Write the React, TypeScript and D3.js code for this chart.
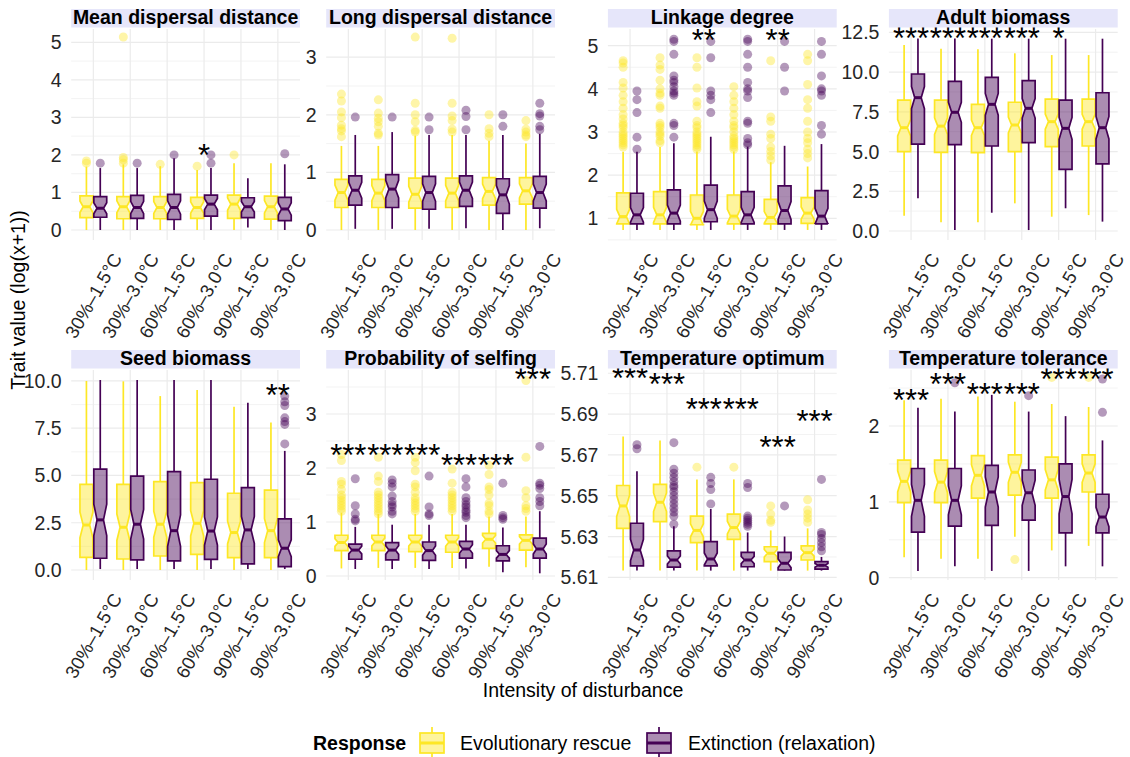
import React from "react";
import * as d3 from "d3";

// Disturbance scenarios (intensity – warming) shared by every facet
const categories = ["30%–1.5°C", "30%–3.0°C", "60%–1.5°C", "60%–3.0°C", "90%–1.5°C", "90%–3.0°C"];
const responses = ["Evolutionary rescue", "Extinction (relaxation)"];
const responseColors = ["#FDE725", "#440154"];

// Box statistics per scenario: [lower whisker, Q1, median, Q3, upper whisker]
// Outliers per scenario; significance labels per scenario: [label, y]

const meanDispersalRescue = [
  [0, 0.33, 0.62, 0.91, 1.69], [0, 0.3, 0.62, 0.89, 1.75], [0, 0.3, 0.6, 0.89, 1.7],
  [0, 0.31, 0.6, 0.87, 1.6], [0, 0.31, 0.69, 0.93, 1.78], [0, 0.29, 0.62, 0.9, 1.78],
];
const meanDispersalExtinction = [
  [0, 0.34, 0.58, 0.89, 1.65], [0, 0.31, 0.6, 0.92, 1.65], [0, 0.28, 0.6, 0.95, 1.91],
  [0, 0.37, 0.69, 0.93, 1.65], [0.07, 0.33, 0.62, 0.86, 1.38], [0, 0.25, 0.56, 0.87, 1.75],
];
const meanDispersalRescueOut = [[1.84, 1.78], [5.14, 1.93, 1.87, 1.78], [1.75], [1.7], [2.0], []];
const meanDispersalExtinctionOut = [[1.78], [1.78], [2.0], [2.0, 1.78], [], [2.03]];
const meanDispersalSig = [["", 0], ["", 0], ["", 0], ["*", 2.19], ["", 0], ["", 0]];

const longDispersalRescue = [
  [0, 0.39, 0.65, 0.88, 1.46], [0, 0.39, 0.64, 0.88, 1.46], [0, 0.38, 0.62, 0.9, 1.64],
  [0, 0.39, 0.64, 0.9, 1.65], [0, 0.43, 0.67, 0.91, 1.55], [0, 0.45, 0.68, 0.91, 1.5],
];
const longDispersalExtinction = [
  [0.02, 0.43, 0.69, 0.94, 1.65], [0.02, 0.39, 0.71, 0.96, 1.7], [0.02, 0.36, 0.65, 0.93, 1.65],
  [0.03, 0.41, 0.69, 0.94, 1.65], [0, 0.29, 0.61, 0.89, 1.65], [0.03, 0.38, 0.65, 0.93, 1.67],
];
const longDispersalRescueOut = [
  [2.36, 2.24, 2.05, 1.95, 1.82, 1.76, 1.72, 1.62],
  [2.26, 2.03, 1.94, 1.88, 1.8, 1.68, 1.65],
  [3.35, 2.2, 2.0, 1.88, 1.73, 1.7],
  [3.33, 2.2, 1.98, 1.9, 1.75, 1.7],
  [2.0, 1.76, 1.68, 1.62],
  [1.9, 1.75, 1.7, 1.65, 1.62],
];
const longDispersalExtinctionOut = [[1.96], [1.96], [1.96, 1.74], [2.08, 1.97, 1.74], [2.0, 1.8], [2.2, 2.02, 1.98, 1.8, 1.74]];
const longDispersalSig = [["", 0], ["", 0], ["", 0], ["", 0], ["", 0], ["", 0]];

const linkageRescue = [
  [0.73, 0.87, 1.04, 1.59, 2.54], [0.73, 0.87, 1.08, 1.62, 2.65], [0.73, 0.85, 1.0, 1.54, 2.55],
  [0.73, 0.87, 1.05, 1.54, 2.55], [0.73, 0.87, 1.02, 1.44, 2.3], [0.73, 0.88, 1.12, 1.48, 2.2],
];
const linkageExtinction = [
  [0.73, 0.87, 1.08, 1.58, 2.54], [0.73, 0.87, 1.12, 1.66, 2.74], [0.73, 0.92, 1.2, 1.77, 2.89],
  [0.73, 0.87, 1.08, 1.62, 2.66], [0.73, 0.87, 1.18, 1.75, 2.68], [0.73, 0.87, 1.05, 1.64, 2.72],
];
const linkageRescueOut = [
  [4.65, 4.6, 4.5, 4.15, 4.02, 3.85, 3.7, 3.55, 3.4, 3.3, 3.2, 3.15, 3.1, 3.0, 2.95, 2.9, 2.85, 2.8, 2.75, 2.7, 2.65],
  [4.72, 4.55, 4.45, 4.2, 4.0, 3.9, 3.85, 3.6, 3.55, 3.2, 3.15, 3.1, 3.0, 2.95, 2.9, 2.8, 2.75],
  [4.72, 4.5, 4.02, 3.7, 3.6, 3.25, 3.15, 3.1, 3.0, 2.95, 2.9, 2.85, 2.8, 2.75, 2.7, 2.65, 2.6],
  [4.05, 3.85, 3.7, 3.55, 3.4, 3.25, 3.15, 3.1, 3.0, 2.9, 2.85, 2.8, 2.75, 2.7, 2.65, 2.6],
  [4.65, 3.35, 3.25, 2.95, 2.85, 2.65, 2.55, 2.45, 2.35],
  [4.8, 4.65, 4.1, 3.75, 3.55, 3.25, 3.0, 2.85, 2.75, 2.6, 2.5, 2.4],
];
const linkageExtinctionOut = [
  [3.95, 3.75, 3.45, 2.88, 2.6],
  [5.15, 5.1, 4.8, 4.3, 4.2, 4.15, 4.05, 3.95, 3.9, 3.85, 3.2, 3.15, 2.88],
  [5.1, 4.72, 3.95, 3.85, 3.75, 3.45],
  [5.15, 5.1, 4.8, 4.5, 4.15, 4.0, 3.95, 3.8, 3.25, 3.2, 2.85, 2.75, 2.7],
  [5.1, 4.5, 3.95],
  [5.1, 4.8, 4.3, 4.0, 3.95, 3.85, 3.15, 2.95],
];
const linkageSig = [["", 0], ["", 0], ["**", 5.29], ["", 0], ["**", 5.29], ["", 0]];

const adultRescue = [
  [0.96, 4.99, 6.5, 8.24, 11.7], [0.55, 4.95, 6.6, 8.24, 11.47], [0.55, 4.93, 6.5, 7.97, 11.43],
  [1.74, 4.99, 6.67, 8.1, 11.18], [0.9, 5.31, 6.88, 8.3, 11.07], [1.0, 5.35, 6.88, 8.3, 11.07],
];
const adultExtinction = [
  [2.06, 5.47, 8.39, 9.88, 12.12], [0.06, 5.43, 7.47, 9.42, 12.12], [1.15, 5.35, 7.97, 9.67, 12.1],
  [0.06, 5.56, 7.72, 9.46, 12.1], [1.43, 3.88, 6.46, 8.24, 12.1], [0.59, 4.22, 6.5, 8.7, 12.1],
];
const adultRescueOut = [[], [], [], [], [], []];
const adultExtinctionOut = [[], [], [], [], [], []];
const adultSig = [["***", 12.55], ["***", 12.55], ["***", 12.55], ["***", 12.55], ["*", 12.55], ["", 0]];

const seedRescue = [
  [0, 0.67, 2.38, 4.53, 10.0], [0, 0.58, 2.26, 4.53, 9.98], [0, 0.74, 2.42, 4.67, 9.2],
  [0, 0.83, 2.47, 4.62, 9.52], [0, 0.65, 1.98, 4.06, 8.64], [0, 0.65, 2.08, 4.23, 7.8],
];
const seedExtinction = [
  [0.05, 0.62, 2.65, 5.34, 10.05], [0.05, 0.53, 2.42, 4.97, 10.05], [0.05, 0.48, 2.08, 5.2, 10.05],
  [0.05, 0.56, 2.06, 4.8, 10.05], [0.05, 0.32, 2.12, 4.36, 8.85], [0.05, 0.18, 1.15, 2.7, 6.3],
];
const seedRescueOut = [[], [], [], [], [], []];
const seedExtinctionOut = [[], [], [], [], [], [9.2, 8.9, 8.7, 8.05, 7.85, 7.7, 6.67]];
const seedSig = [["", 0], ["", 0], ["", 0], ["", 0], ["", 0], ["**", 9.63]];

const selfingRescue = [
  [0.14, 0.47, 0.62, 0.755, 1.17], [0.15, 0.47, 0.63, 0.755, 1.15], [0.15, 0.45, 0.63, 0.755, 1.15],
  [0.15, 0.44, 0.63, 0.755, 1.15], [0.17, 0.51, 0.68, 0.79, 1.1], [0.16, 0.48, 0.66, 0.76, 1.1],
];
const selfingExtinction = [
  [0.13, 0.31, 0.48, 0.59, 0.91], [0.13, 0.3, 0.48, 0.62, 0.95], [0.13, 0.29, 0.47, 0.63, 0.95],
  [0.14, 0.33, 0.5, 0.64, 0.95], [0.07, 0.28, 0.4, 0.56, 0.9], [0.05, 0.33, 0.5, 0.7, 1.2],
];
const selfingRescueOut = [
  [2.25, 2.14, 1.75, 1.7, 1.6, 1.5, 1.45, 1.4, 1.35, 1.3, 1.25, 1.2],
  [2.2, 1.85, 1.75, 1.55, 1.5, 1.45, 1.4, 1.35, 1.3, 1.25, 1.2, 1.15],
  [2.2, 2.1, 1.95, 1.7, 1.65, 1.55, 1.45, 1.4, 1.35, 1.3, 1.25, 1.2],
  [1.98, 1.72, 1.55, 1.5, 1.45, 1.4, 1.35, 1.3, 1.25, 1.2],
  [2.05, 1.88, 1.65, 1.6, 1.5, 1.35, 1.3, 1.2, 1.15],
  [3.62, 2.2, 1.58, 1.45, 1.3, 1.25, 1.2],
];
const selfingExtinctionOut = [
  [1.8, 1.3, 1.15, 1.05, 1.02],
  [1.78, 1.72, 1.65, 1.48, 1.38, 1.32, 1.28, 1.2, 1.15],
  [1.85, 1.28, 1.15, 1.12],
  [1.8, 1.65, 1.45, 1.38, 1.32, 1.28, 1.22, 1.18, 1.12, 1.08],
  [1.72, 1.12, 1.08, 1.05],
  [2.4, 1.72, 1.68, 1.62, 1.45, 1.38, 1.3],
];
const selfingSig = [["***", 2.37], ["***", 2.37], ["***", 2.37], ["***", 2.18], ["***", 2.18], ["***", 3.78]];

const toptRescue = [
  [5.6133, 5.634, 5.645, 5.655, 5.679], [5.6133, 5.6373, 5.6468, 5.6556, 5.677],
  [5.6133, 5.627, 5.633, 5.64, 5.658], [5.6133, 5.6286, 5.6344, 5.641, 5.658],
  [5.6133, 5.6177, 5.6218, 5.625, 5.633], [5.6133, 5.6185, 5.6221, 5.6254, 5.634],
];
const toptExtinction = [
  [5.6133, 5.6156, 5.6234, 5.6365, 5.662], [5.6133, 5.615, 5.6185, 5.623, 5.635],
  [5.6133, 5.6156, 5.619, 5.6275, 5.6435], [5.6133, 5.6152, 5.6185, 5.6222, 5.632],
  [5.6133, 5.6136, 5.6169, 5.6222, 5.63], [5.6133, 5.614, 5.6159, 5.6177, 5.62],
];
const toptRescueOut = [[], [], [5.664], [5.664], [5.645, 5.641, 5.638, 5.637], [5.648, 5.643, 5.641, 5.639, 5.637]];
const toptExtinctionOut = [
  [5.675, 5.673],
  [5.676, 5.663, 5.661, 5.659, 5.657, 5.655, 5.654, 5.652, 5.65, 5.648, 5.646, 5.644, 5.642, 5.64, 5.636],
  [5.659, 5.656, 5.653, 5.646],
  [5.656, 5.654, 5.64, 5.639, 5.638, 5.637, 5.636, 5.635],
  [5.645],
  [5.658, 5.632, 5.631, 5.629, 5.627, 5.625, 5.623],
];
const toptSig = [["***", 5.711], ["***", 5.708], ["***", 5.696], ["***", 5.696], ["***", 5.677], ["***", 5.69]];

const ttolRescue = [
  [0.27, 0.99, 1.27, 1.55, 2.34], [0.25, 0.99, 1.26, 1.55, 2.36], [0.25, 1.05, 1.35, 1.61, 2.39],
  [0.54, 1.09, 1.39, 1.62, 2.32], [0.36, 1.05, 1.29, 1.59, 2.29], [0.42, 1.13, 1.38, 1.62, 2.25],
];
const ttolExtinction = [
  [0.09, 0.6, 1.02, 1.44, 2.24], [0.15, 0.68, 1.02, 1.44, 2.19], [0.09, 0.69, 1.13, 1.48, 2.41],
  [0.09, 0.76, 1.12, 1.42, 2.19], [0.15, 0.59, 1.07, 1.5, 2.13], [0.15, 0.59, 0.8, 1.1, 1.81],
];
const ttolRescueOut = [[], [], [], [0.24], [2.64], [2.64]];
const ttolExtinctionOut = [[], [2.57], [], [2.4], [], [2.62, 2.18]];
const ttolSig = [["***", 2.43], ["***", 2.64], ["***", 2.51], ["***", 2.51], ["***", 2.71], ["***", 2.71]];

// ---- layout ----
const FONT = "'Liberation Sans', Arial, Helvetica, sans-serif";
const WIDTH = 1130;
const HEIGHT = 757;
const colLeft = [71.2, 326.2, 607.9, 888.9];
const panelW = 228.8;
const rowTop = [29, 370];
const rowBottom = [240, 580];
const stripTop = [9, 350];
const stripH = 18.5;
const TEXT_COLOR = "#262626";

type Panel = {
  title: string;
  rescue: number[][];
  extinction: number[][];
  rescueOut: number[][];
  extinctionOut: number[][];
  sig: (string | number)[][];
  ticks: number[];
  fmt: string;
  domain: [number, number];
  n: number;
};

const panels: Panel[] = [
  { title: "Mean dispersal distance", rescue: meanDispersalRescue, extinction: meanDispersalExtinction,
    rescueOut: meanDispersalRescueOut, extinctionOut: meanDispersalExtinctionOut, sig: meanDispersalSig,
    ticks: [0, 1, 2, 3, 4, 5], fmt: "d", domain: [-0.266, 5.354], n: 35 },
  { title: "Long dispersal distance", rescue: longDispersalRescue, extinction: longDispersalExtinction,
    rescueOut: longDispersalRescueOut, extinctionOut: longDispersalExtinctionOut, sig: longDispersalSig,
    ticks: [0, 1, 2, 3], fmt: "d", domain: [-0.174, 3.49], n: 35 },
  { title: "Linkage degree", rescue: linkageRescue, extinction: linkageExtinction,
    rescueOut: linkageRescueOut, extinctionOut: linkageExtinctionOut, sig: linkageSig,
    ticks: [1, 2, 3, 4, 5], fmt: "d", domain: [0.497, 5.387], n: 45 },
  { title: "Adult biomass", rescue: adultRescue, extinction: adultExtinction,
    rescueOut: adultRescueOut, extinctionOut: adultExtinctionOut, sig: adultSig,
    ticks: [0, 2.5, 5, 7.5, 10, 12.5], fmt: ".1f", domain: [-0.566, 12.71], n: 100 },
  { title: "Seed biomass", rescue: seedRescue, extinction: seedExtinction,
    rescueOut: seedRescueOut, extinctionOut: seedExtinctionOut, sig: seedSig,
    ticks: [0, 2.5, 5, 7.5, 10], fmt: ".1f", domain: [-0.53, 10.58], n: 80 },
  { title: "Probability of selfing", rescue: selfingRescue, extinction: selfingExtinction,
    rescueOut: selfingRescueOut, extinctionOut: selfingExtinctionOut, sig: selfingSig,
    ticks: [0, 1, 2, 3], fmt: "d", domain: [-0.074, 3.815], n: 40 },
  { title: "Temperature optimum", rescue: toptRescue, extinction: toptExtinction,
    rescueOut: toptRescueOut, extinctionOut: toptExtinctionOut, sig: toptSig,
    ticks: [5.61, 5.63, 5.65, 5.67, 5.69, 5.71], fmt: ".2f", domain: [5.6087, 5.7116], n: 40 },
  { title: "Temperature tolerance", rescue: ttolRescue, extinction: ttolExtinction,
    rescueOut: ttolRescueOut, extinctionOut: ttolExtinctionOut, sig: ttolSig,
    ticks: [0, 1, 2], fmt: "d", domain: [-0.03, 2.738], n: 40 },
];

function minorTicks(ticks: number[], domain: [number, number]) {
  const step = ticks[1] - ticks[0];
  const out: number[] = [];
  for (let v = ticks[0] - step / 2; v <= domain[1]; v += step) {
    if (v >= domain[0]) out.push(v);
  }
  return out;
}

function BoxGlyph({ cx, w, stats, n, y, color }: { cx: number; w: number; stats: number[]; n: number; y: d3.ScaleLinear<number, number>; color: string }) {
  const [lo, q1, med, q3, hi] = stats;
  const notch = (1.58 * (q3 - q1)) / Math.sqrt(n);
  const hw = w / 2;
  const nw = hw * 0.5;
  const pts: [number, number][] = [
    [cx - hw, y(q3)], [cx + hw, y(q3)], [cx + hw, y(med + notch)], [cx + nw, y(med)],
    [cx + hw, y(med - notch)], [cx + hw, y(q1)], [cx - hw, y(q1)], [cx - hw, y(med - notch)],
    [cx - nw, y(med)], [cx - hw, y(med + notch)],
  ];
  const path = d3.line()(pts) + "Z";
  return (
    <g>
      <line x1={cx} x2={cx} y1={y(q3)} y2={y(hi)} stroke={color} strokeWidth={1.7} />
      <line x1={cx} x2={cx} y1={y(q1)} y2={y(lo)} stroke={color} strokeWidth={1.7} />
      <path d={path} fill={color} fillOpacity={0.45} stroke={color} strokeWidth={1.7} strokeLinejoin="miter" />
      <line x1={cx - nw} x2={cx + nw} y1={y(med)} y2={y(med)} stroke={color} strokeWidth={3} />
    </g>
  );
}

function Facet({ p, idx }: { p: Panel; idx: number }) {
  const col = idx % 4;
  const row = Math.floor(idx / 4);
  const left = colLeft[col];
  const top = rowTop[row];
  const bottom = rowBottom[row];
  const x = d3.scaleBand<string>().domain(categories).range([left, left + panelW]).paddingInner(0).paddingOuter(0.1);
  const step = x.step();
  const center = (c: string) => (x(c) as number) + x.bandwidth() / 2;
  const y = d3.scaleLinear().domain(p.domain).range([bottom, top]);
  const fmt = d3.format(p.fmt);
  const minors = minorTicks(p.ticks, p.domain);
  const boxW = step * 0.35;
  const dodge = step * 0.1875;
  const groupData = [
    { stats: p.rescue, out: p.rescueOut, color: responseColors[0], off: -dodge },
    { stats: p.extinction, out: p.extinctionOut, color: responseColors[1], off: dodge },
  ];
  const labelCenterY = bottom + 55.5;

  return (
    <g>
      {/* grid */}
      {minors.map((v) => (
        <line key={"mi" + v} x1={left} x2={left + panelW} y1={y(v)} y2={y(v)} stroke="#EBEBEB" strokeWidth={0.6} />
      ))}
      {p.ticks.map((v) => (
        <line key={"ma" + v} x1={left} x2={left + panelW} y1={y(v)} y2={y(v)} stroke="#EBEBEB" strokeWidth={1.2} />
      ))}
      {categories.map((c) => (
        <line key={"vx" + c} x1={center(c)} x2={center(c)} y1={top} y2={bottom} stroke="#EBEBEB" strokeWidth={1.2} />
      ))}

      {/* y tick labels */}
      {p.ticks.map((v) => (
        <text key={"yl" + v} x={left - 9.5} y={y(v)} dy="0.36em" textAnchor="end" fontSize={19.5} fill={TEXT_COLOR} fontFamily={FONT}>
          {fmt(v)}
        </text>
      ))}

      {/* x tick labels */}
      {categories.map((c) => (
        <text key={"xl" + c} transform={`translate(${center(c)},${labelCenterY}) rotate(-60)`} textAnchor="middle" dy="0.36em" fontSize={18.6} fill={TEXT_COLOR} fontFamily={FONT}>
          {c}
        </text>
      ))}

      {/* boxes */}
      {groupData.map((g, gi) =>
        categories.map((c, ci) => {
          const cx = center(c) + g.off;
          return (
            <g key={`b${gi}-${ci}`}>
              {g.out[ci].map((v, k) => (
                <circle key={k} cx={cx} cy={y(v)} r={4.5} fill={g.color} fillOpacity={0.4} />
              ))}
              <BoxGlyph cx={cx} w={boxW} stats={g.stats[ci]} n={p.n} y={y} color={g.color} />
            </g>
          );
        })
      )}

      {/* significance */}
      {p.sig.map((s, ci) =>
        s[0] ? (
          <text key={"s" + ci} x={center(categories[ci])} y={y(s[1] as number) + 17.8} textAnchor="middle" fontSize={31} fill="#000" fontFamily={FONT}>
            {s[0] as string}
          </text>
        ) : null
      )}

      {/* strip */}
      <rect x={left} y={stripTop[row]} width={panelW} height={stripH} fill="#E6E6FA" />
      <text x={left + panelW / 2} y={stripTop[row] + 14.6} textAnchor="middle" fontSize={19.5} fontWeight="bold" fill="#000" fontFamily={FONT}>
        {p.title}
      </text>
    </g>
  );
}

function LegendKey({ x, color }: { x: number; color: string }) {
  const w = 24;
  const yTop = 733;
  const yBot = 753;
  const cx = x + w / 2;
  return (
    <g>
      <line x1={cx} x2={cx} y1={727} y2={yTop} stroke={color} strokeWidth={1.7} />
      <line x1={cx} x2={cx} y1={yBot} y2={759} stroke={color} strokeWidth={1.7} />
      <rect x={x} y={yTop} width={w} height={yBot - yTop} fill={color} fillOpacity={0.45} stroke={color} strokeWidth={1.7} />
      <line x1={x} x2={x + w} y1={(yTop + yBot) / 2} y2={(yTop + yBot) / 2} stroke={color} strokeWidth={3} />
    </g>
  );
}

export default function App() {
  return (
    <svg width={WIDTH} height={HEIGHT} style={{ position: "absolute", left: 0, top: 0, background: "#fff" }}>
      <rect width={WIDTH} height={HEIGHT} fill="#fff" />
      {panels.map((p, i) => (
        <Facet key={p.title} p={p} idx={i} />
      ))}

      {/* axis titles */}
      <text transform="translate(24.5,300) rotate(-90)" textAnchor="middle" fontSize={19.5} fill="#000" fontFamily={FONT}>
        Trait value (log(x+1))
      </text>
      <text x={583} y={697} textAnchor="middle" fontSize={19.5} fill="#000" fontFamily={FONT}>
        Intensity of disturbance
      </text>

      {/* legend */}
      <text x={313} y={750} fontSize={19.5} fontWeight="bold" fill="#000" fontFamily={FONT}>Response</text>
      <LegendKey x={420} color={responseColors[0]} />
      <text x={460} y={750} fontSize={19.5} fill="#000" fontFamily={FONT}>{responses[0]}</text>
      <LegendKey x={647} color={responseColors[1]} />
      <text x={688} y={750} fontSize={19.5} fill="#000" fontFamily={FONT}>{responses[1]}</text>
    </svg>
  );
}
